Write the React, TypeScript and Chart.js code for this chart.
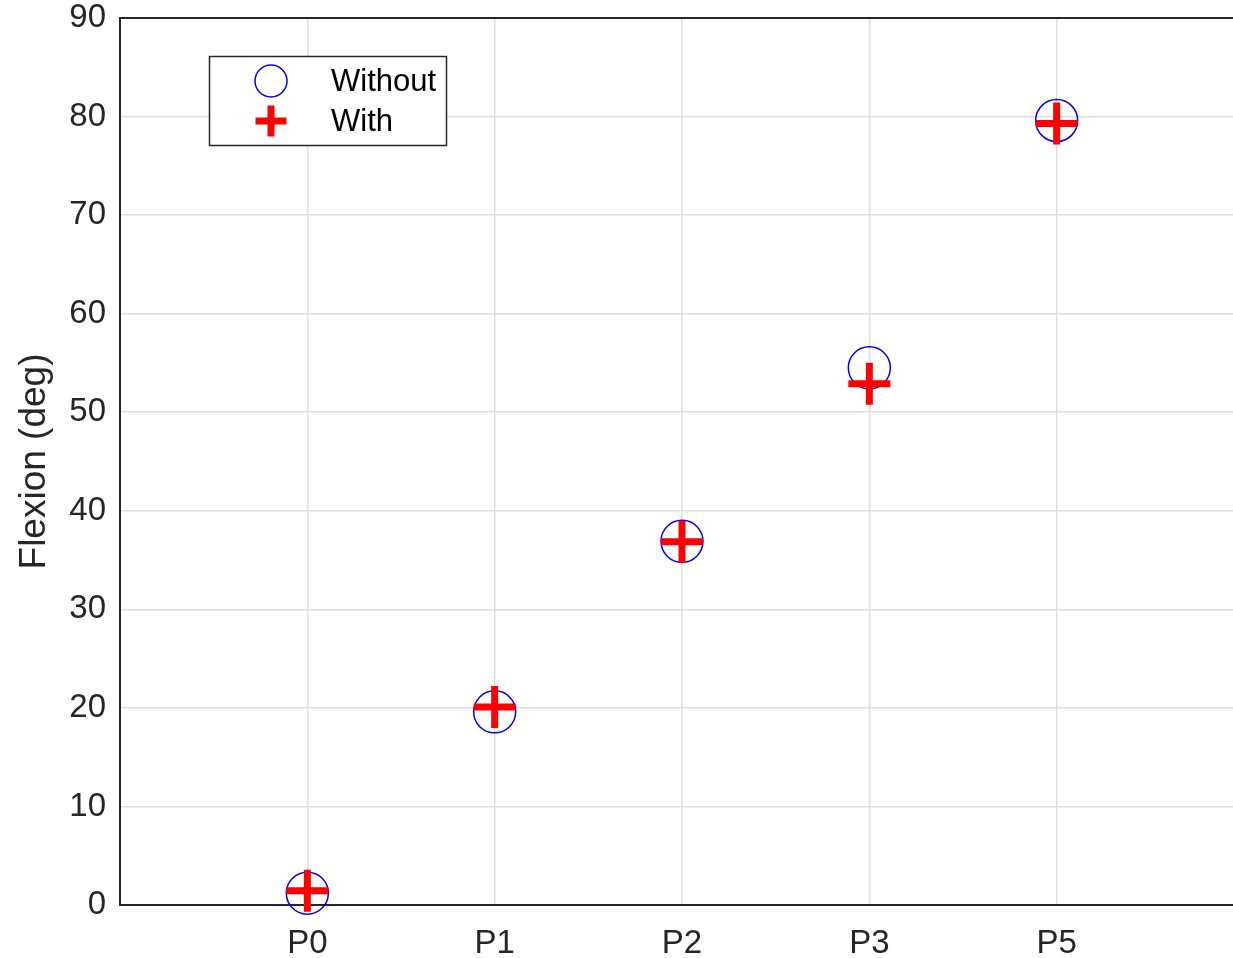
import React, { useEffect, useRef } from "react";
import { Chart, registerables } from "chart.js";

Chart.register(...registerables);

const categories = ["P0", "P1", "P2", "P3", "P5"];
const withoutValues = [1.2, 19.6, 36.9, 54.5, 79.6];
const withValues = [1.45, 20.1, 36.85, 52.9, 79.3];
const seriesLabels = ["Without", "With"];
const yTitle = "Flexion (deg)";

const FONT = "'Liberation Sans', Arial, Helvetica, sans-serif";
const TEXT = "#262626";

const boxPlugin = {
  id: "boxAndLegend",
  afterDraw(chart: any) {
    const { ctx, chartArea } = chart;
    ctx.save();
    // top border of the axes box
    ctx.strokeStyle = TEXT;
    ctx.lineWidth = 2;
    ctx.beginPath();
    ctx.moveTo(chartArea.left - 1, chartArea.top);
    ctx.lineTo(chartArea.right + 1, chartArea.top);
    ctx.stroke();

    // legend
    const lx = 209.5, ly = 56.5, lw = 237, lh = 89;
    ctx.fillStyle = "#ffffff";
    ctx.fillRect(lx, ly, lw, lh);
    ctx.strokeStyle = "#262626";
    ctx.lineWidth = 1.5;
    ctx.strokeRect(lx, ly, lw, lh);

    const mx = 271;
    const y1 = 81, y2 = 121;
    // circle
    ctx.strokeStyle = "#0000ff";
    ctx.lineWidth = 1.5;
    ctx.beginPath();
    ctx.arc(mx, y1, 16, 0, Math.PI * 2);
    ctx.stroke();
    // cross
    ctx.strokeStyle = "#ff0000";
    ctx.lineWidth = 7;
    ctx.beginPath();
    ctx.moveTo(mx - 15.5, y2);
    ctx.lineTo(mx + 15.5, y2);
    ctx.moveTo(mx, y2 - 15.5);
    ctx.lineTo(mx, y2 + 15.5);
    ctx.stroke();

    ctx.fillStyle = "#000000";
    ctx.font = `31px ${FONT}`;
    ctx.textAlign = "left";
    ctx.textBaseline = "middle";
    ctx.fillText(seriesLabels[0], 331, y1 + 1);
    ctx.fillText(seriesLabels[1], 331, y2 + 1);
    ctx.restore();
  },
};

export default function App() {
  const ref = useRef<HTMLCanvasElement | null>(null);

  useEffect(() => {
    if (!ref.current) return;
    const chart = new Chart(ref.current, {
      type: "scatter",
      data: {
        datasets: [
          {
            label: seriesLabels[1],
            data: withValues.map((v, i) => ({ x: i + 1, y: v })),
            pointStyle: "cross",
            pointRadius: 21,
            borderWidth: 7,
            pointBorderWidth: 7,
            borderColor: "#ff0000",
            backgroundColor: "#ff0000",
            order: 0,
            clip: false as any,
          },
          {
            label: seriesLabels[0],
            data: withoutValues.map((v, i) => ({ x: i + 1, y: v })),
            pointStyle: "circle",
            pointRadius: 21,
            borderWidth: 1.5,
            pointBorderWidth: 1.5,
            borderColor: "#0000ff",
            backgroundColor: "rgba(0,0,0,0)",
            order: 1,
            clip: false as any,
          },
        ],
      },
      options: {
        animation: false,
        responsive: false,
        devicePixelRatio: 1,
        layout: { autoPadding: false, padding: { left: 0, right: 6, top: 18, bottom: 0 } },
        plugins: {
          legend: { display: false },
          tooltip: { enabled: false },
        },
        scales: {
          x: {
            type: "linear",
            min: 0,
            max: 6,
            afterFit: (s: any) => {
              s.height = 53;
              s.paddingLeft = 0;
              s.paddingRight = 0;
            },
            ticks: {
              stepSize: 1,
              autoSkip: false,
              maxRotation: 0,
              padding: 19,
              color: TEXT,
              font: { family: FONT, size: 33, lineHeight: 1.2 },
              callback: (v: any) => {
                const n = Number(v);
                return n >= 1 && n <= categories.length ? categories[n - 1] : "";
              },
            },
            grid: { color: "#dfdfdf", lineWidth: 1.5, drawTicks: false },
            border: { color: TEXT, width: 2 },
          },
          y: {
            min: 0,
            max: 90,
            afterFit: (s: any) => {
              s.width = 120;
              s.paddingTop = 0;
              s.paddingBottom = 0;
            },
            ticks: {
              stepSize: 10,
              padding: 14,
              color: TEXT,
              font: { family: FONT, size: 33, lineHeight: 1.2 },
            },
            grid: { color: "#dfdfdf", lineWidth: 1.5, drawTicks: false },
            border: { color: TEXT, width: 2 },
            title: {
              display: true,
              text: yTitle,
              color: TEXT,
              font: { family: FONT, size: 37, lineHeight: 1.2 },
              padding: { top: 13, bottom: 0 },
            },
          },
        },
      },
      plugins: [boxPlugin],
    });
    return () => chart.destroy();
  }, []);

  return (
    <div
      style={{
        position: "fixed",
        left: 0,
        top: 0,
        width: 1233,
        height: 958,
        overflow: "hidden",
        background: "#ffffff",
      }}
    >
      <canvas ref={ref} width={1250} height={958} style={{ display: "block" }} />
    </div>
  );
}
